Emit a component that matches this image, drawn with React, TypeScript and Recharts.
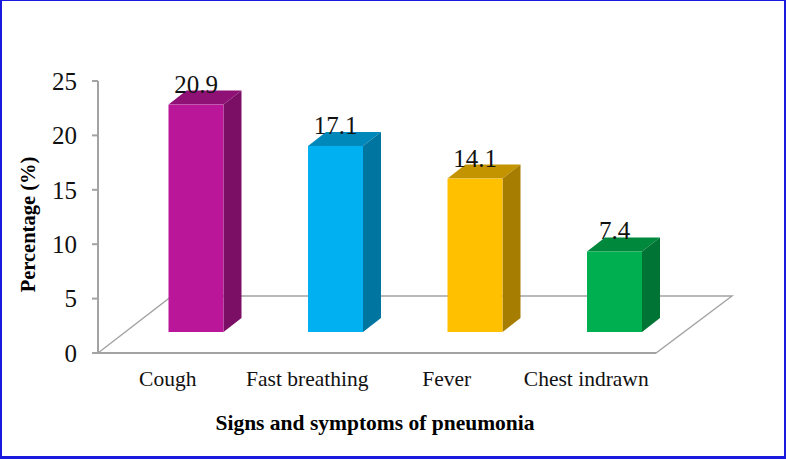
import React from "react";
import { BarChart, Bar, XAxis, YAxis, LabelList, usePlotArea } from "recharts";

const categories = ["Cough", "Fast breathing", "Fever", "Chest indrawn"];
const percentages = [20.9, 17.1, 14.1, 7.4];
const yTicks = [0, 5, 10, 15, 20, 25];
const frontColors = ["#B9169A", "#00B0F0", "#FFC000", "#00B050"];
const sideColors = ["#7A0F65", "#0075A0", "#A67D00", "#007434"];
const topColors = ["#8F1176", "#0088BA", "#C49400", "#00883D"];

const rows = categories.map((name, i) => ({ name, value: percentages[i] }));

const FONT = '"Liberation Serif", "Times New Roman", serif';
const AXIS = "#A3A3A3";
const SHIFT_X = 28.5;
const SHIFT_Y = -21;
const DEPTH_X = 18;
const DEPTH_Y = -14;

function Floor() {
  const p = usePlotArea();
  if (!p) return null;
  const bottom = p.y + p.height;
  const left = p.x;
  const right = p.x + p.width;
  const pts = `${left},${bottom} ${left + 74},${bottom - 57} ${right + 76},${bottom - 57} ${right},${bottom}`;
  return <polygon points={pts} fill="#fff" stroke={AXIS} strokeWidth={1.4} />;
}

function Bar3D(props: any) {
  const { x, y, width, height, index } = props;
  const l = x + SHIFT_X;
  const r = l + width;
  const t = y + SHIFT_Y;
  const b = t + height;
  return (
    <g>
      <polygon
        points={`${l},${t} ${l + DEPTH_X},${t + DEPTH_Y} ${r + DEPTH_X},${t + DEPTH_Y} ${r},${t}`}
        fill={topColors[index]}
      />
      <polygon
        points={`${r},${t} ${r + DEPTH_X},${t + DEPTH_Y} ${r + DEPTH_X},${b + DEPTH_Y} ${r},${b}`}
        fill={sideColors[index]}
      />
      <rect x={l} y={t} width={width} height={height} fill={frontColors[index]} />
    </g>
  );
}

function ValueLabel(props: any) {
  const { x, y, width, value } = props;
  return (
    <text
      x={x + SHIFT_X + width / 2}
      y={y + SHIFT_Y - 12}
      textAnchor="middle"
      fontFamily={FONT}
      fontSize={25}
      fill="#111"
    >
      {value}
    </text>
  );
}

function YTitle() {
  return (
    <text
      transform="translate(35,224.5) rotate(-90)"
      textAnchor="middle"
      fontFamily={FONT}
      fontSize={20.5}
      fontWeight="bold"
      fill="#000"
    >
      Percentage (%)
    </text>
  );
}

function XTitle() {
  return (
    <text
      x={375}
      y={430}
      textAnchor="middle"
      fontFamily={FONT}
      fontSize={21.5}
      fontWeight="bold"
      fill="#000"
    >
      Signs and symptoms of pneumonia
    </text>
  );
}

export default function App() {
  return (
    <div style={{ position: "absolute", left: 0, top: 0, width: 786, height: 459, background: "#fff" }}>
      <BarChart
        width={786}
        height={459}
        data={rows}
        margin={{ top: 81, right: 130, bottom: 0, left: 0 }}
      >
        <Floor />
        <XAxis
          dataKey="name"
          height={106}
          tickLine={false}
          axisLine={{ stroke: AXIS, strokeWidth: 2 }}
          tick={{ fontFamily: FONT, fontSize: 21.5, fill: "#111" }}
          tickMargin={12}
          interval={0}
        />
        <YAxis
          width={98}
          domain={[0, 25]}
          ticks={yTicks}
          tickSize={6}
          tickLine={{ stroke: AXIS, strokeWidth: 2 }}
          axisLine={{ stroke: AXIS, strokeWidth: 2 }}
          tick={{ fontFamily: FONT, fontSize: 25, fill: "#111" }}
          tickMargin={15}
        />
        <Bar dataKey="value" barSize={55} shape={<Bar3D />} isAnimationActive={false}>
          <LabelList dataKey="value" content={<ValueLabel />} />
        </Bar>
        <YTitle />
        <XTitle />
      </BarChart>
      <div
        style={{
          position: "absolute",
          left: 0,
          top: 0,
          width: 786,
          height: 459,
          boxSizing: "border-box",
          borderStyle: "solid",
          borderColor: "#1A1ADF",
          borderWidth: "1px 2px 3px 2px",
          pointerEvents: "none",
        }}
      />
    </div>
  );
}
